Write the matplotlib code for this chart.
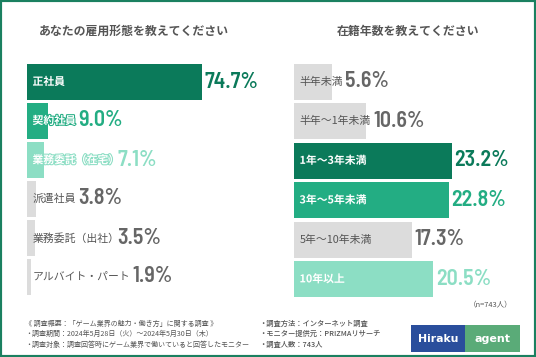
import matplotlib
matplotlib.use("Agg")
import matplotlib.pyplot as plt
from matplotlib.patches import Rectangle
import matplotlib.patheffects as pe
import matplotlib.transforms as mtrans

plt.rcParams['font.family'] = ['Noto Sans CJK JP', 'DejaVu Sans']

# ---- data ----
emp_title = "あなたの雇用形態を教えてください"
emp_labels = ["正社員", "契約社員", "業務委託（在宅）", "派遣社員", "業務委託（出社）", "アルバイト・パート"]
emp_values = [74.7, 9.0, 7.1, 3.8, 3.5, 1.9]

ten_title = "在籍年数を教えてください"
ten_labels = ["半年未満", "半年～1年未満", "1年～3年未満", "3年～5年未満", "5年～10年未満", "10年以上"]
ten_values = [5.6, 10.6, 23.2, 22.8, 17.3, 20.5]

footer_left = ["《 調査概要：「ゲーム業界の魅力・働き方」に関する調査 》",
               "・調査期間：2024年5月28日（火）～2024年5月30日（木）",
               "・調査対象：調査回答時にゲーム業界で働いていると回答したモニター"]
footer_right = ["・調査方法：インターネット調査",
                "・モニター提供元：PRIZMAリサーチ",
                "・調査人数：743人"]
n_note = "（n=743人）"

# ---- styles ----
DARK = "#0b7a5a"
MID = "#23ad83"
MINT = "#8cdec4"
GRAY = "#dcdcdc"
GTXT = "#555555"
GVAL = "#666666"

emp_colors = [DARK, MID, MINT, GRAY, GRAY, GRAY]
ten_colors = [GRAY, GRAY, DARK, MID, GRAY, MINT]

W, H = 536, 357
fig = plt.figure(figsize=(W / 100, H / 100), dpi=100)
fig.patch.set_facecolor("white")


def px_axes(left, top, width, height):
    return fig.add_axes([left / W, 1 - (top + height) / H, width / W, height / H])


VAL_FONT = dict(family=['Barlow Semi Condensed', 'Roboto Condensed', 'DejaVu Sans'],
                weight='semibold', fontsize=15.8)
LAB_SIZE = 7.8


def panel(ax, labels, values, colors, xmax, hbar):
    ax.set_xlim(0, xmax)
    ax.set_ylim(len(labels) - 0.5, -0.5)
    ax.axis('off')
    ys = list(range(len(labels)))
    ax.barh(ys, values, height=hbar, color=colors, edgecolor='none')
    fig.canvas.draw()
    r = fig.canvas.get_renderer()
    inv = ax.transData.inverted()
    for y, lab, v, c in zip(ys, labels, values, colors):
        gray = (c == GRAY)
        tcol = GTXT if gray else 'white'
        t = ax.text(0, y, lab, color=tcol, fontsize=LAB_SIZE,
                    weight='normal' if gray else 'bold', va='center', ha='left')
        t.set_transform(ax.transData + mtrans.ScaledTranslation(5.5 / 100, 0, fig.dpi_scale_trans))
        if not gray:
            t.set_path_effects([pe.withStroke(linewidth=1.5, foreground=c)])
        bb = t.get_window_extent(r)
        lab_end = bb.x1
        if lab.endswith("）"):
            lab_end -= 0.45 * LAB_SIZE * 100 / 72
        bar_end = ax.transData.transform((v, y))[0]
        xe = max(lab_end, bar_end) + 2.5
        xd = inv.transform((xe, 0))[0]
        vt = ax.text(xd, y, f"{v:.1f}%", color=GVAL if gray else c, va='center', ha='left',
                     clip_on=False, **VAL_FONT)
        vt.set_transform(ax.transData + mtrans.ScaledTranslation(0, 0.5 / 100, fig.dpi_scale_trans))


axL = px_axes(27, 62.5, 234, 234)
panel(axL, emp_labels, emp_values, emp_colors, 100, 0.92)
axR = px_axes(294, 62, 238, 237)
panel(axR, ten_labels, ten_values, ten_colors, 35, 0.91)

# titles
fig.text(134 / W, 1 - 31 / H, emp_title, ha='center', va='center', fontsize=8.6,
         weight='bold', color="#555555")
fig.text(408 / W, 1 - 31 / H, ten_title, ha='center', va='center', fontsize=8.6,
         weight='bold', color="#555555")

# footer
for i, s in enumerate(footer_left):
    fig.text(25 / W, 1 - (323.5 + 10.6 * i) / H, s, ha='left', va='center', fontsize=5.05, color=GTXT)
for i, s in enumerate(footer_right):
    fig.text(259 / W, 1 - (323.5 + 10.6 * i) / H, s, ha='left', va='center', fontsize=5.25,
             color=GTXT, weight='medium')
fig.text(491 / W, 1 - 305 / H, n_note, ha='center', va='center', fontsize=5.4, color=GTXT)

# logo
fig.add_artist(Rectangle((411 / W, 1 - 352 / H), 54 / W, 27 / H, transform=fig.transFigure,
                         facecolor="#2a4e9c", edgecolor='none'))
fig.add_artist(Rectangle((465 / W, 1 - 352 / H), 55 / W, 27 / H, transform=fig.transFigure,
                         facecolor="#5aab78", edgecolor='none'))
fig.text(438 / W, 1 - 338.5 / H, "Hiraku", ha='center', va='center', fontsize=7.8,
         family='DejaVu Sans', weight='bold', color='white')
fig.text(492.5 / W, 1 - 339.5 / H, "agent", ha='center', va='center', fontsize=8,
         family='DejaVu Sans', weight='bold', color='white')

# border
fig.add_artist(Rectangle((0, 0), 1, 1, transform=fig.transFigure, facecolor='none',
                         edgecolor="#1a8060", linewidth=3))

fig.savefig("out.png", dpi=100)
